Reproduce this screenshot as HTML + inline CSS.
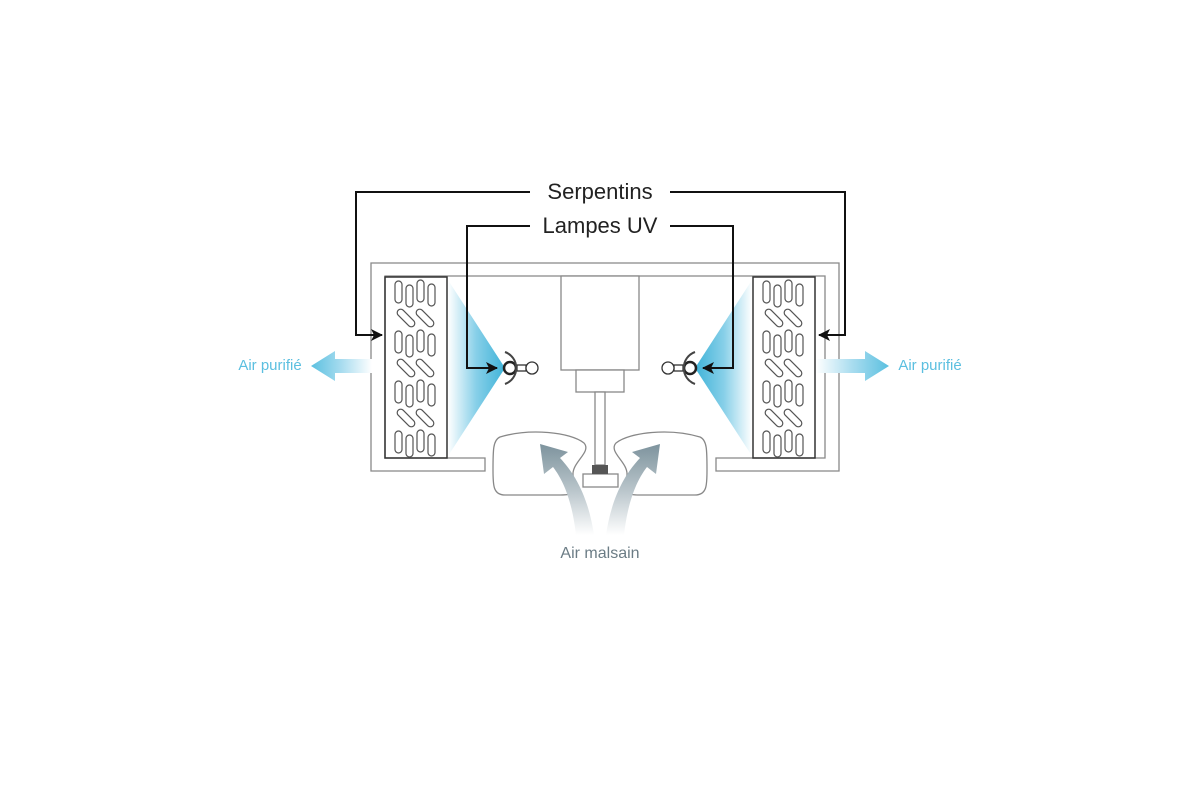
<!DOCTYPE html>
<html><head><style>
html,body{margin:0;padding:0;background:#fff;}
svg{display:block}
text{font-family:"Liberation Sans",sans-serif}
</style></head><body>
<svg width="1200" height="798" viewBox="0 0 1200 798" xmlns="http://www.w3.org/2000/svg">
<defs>
<linearGradient id="gl" x1="1" y1="0" x2="0" y2="0"><stop offset="0" stop-color="#3fb3d8"/><stop offset="0.5" stop-color="#86cfe8"/><stop offset="1" stop-color="#fff"/></linearGradient>
<linearGradient id="gr" x1="0" y1="0" x2="1" y2="0"><stop offset="0" stop-color="#3fb3d8"/><stop offset="0.5" stop-color="#86cfe8"/><stop offset="1" stop-color="#fff"/></linearGradient>
<linearGradient id="al" x1="1" y1="0" x2="0" y2="0"><stop offset="0" stop-color="#fff"/><stop offset="0.5" stop-color="#a8dcef"/><stop offset="1" stop-color="#5bc0e0"/></linearGradient>
<linearGradient id="ar" x1="0" y1="0" x2="1" y2="0"><stop offset="0" stop-color="#fff"/><stop offset="0.5" stop-color="#a8dcef"/><stop offset="1" stop-color="#5bc0e0"/></linearGradient>
<linearGradient id="gy" x1="0" y1="1" x2="0" y2="0"><stop offset="0" stop-color="#fff"/><stop offset="0.5" stop-color="#b8c4ca"/><stop offset="1" stop-color="#7d939d"/></linearGradient>
<marker id="ah" markerWidth="12" markerHeight="12" refX="11" refY="6" orient="auto" markerUnits="userSpaceOnUse"><path d="M0,0 L12,6 L0,12 L3,6 Z" fill="#111"/></marker>
<g id="coil" fill="none" stroke="#555" stroke-width="1.2">
<rect x="0" y="0" width="62" height="181" stroke="#333" stroke-width="1.5"/>
<g id="vr"><rect x="10" y="4" width="7" height="22" rx="3.5"/><rect x="21" y="8" width="7" height="22" rx="3.5"/><rect x="32" y="3" width="7" height="22" rx="3.5"/><rect x="43" y="7" width="7" height="22" rx="3.5"/></g>
<g id="dr"><rect x="10" y="37.5" width="22" height="7" rx="3.5" transform="rotate(45 21 41)"/><rect x="29" y="37.5" width="22" height="7" rx="3.5" transform="rotate(45 40 41)"/></g>
<use href="#vr" y="50"/><use href="#dr" y="50"/><use href="#vr" y="100"/><use href="#dr" y="100"/><use href="#vr" y="150"/>
</g>
<g id="lamp" fill="none" stroke="#333" stroke-width="1.3">
<circle r="6" fill="#fff" stroke="#222" stroke-width="2.5"/>
<rect x="7" y="-3" width="9" height="6" fill="#fff"/>
<circle cx="22" r="6" fill="#fff"/>
<path d="M-5,-16 A17,17 0 0 1 -5,16" stroke="#444" stroke-width="2"/>
</g>
</defs>
<path d="M371,263 H839 V471 H716 V458 H825 V276 H385 V458 H485 V471 H371 Z" fill="none" stroke="#888" stroke-width="1.3"/>
<path d="M505,368 L448,280 L448,456 Z" fill="url(#gl)"/>
<path d="M695,368 L752,280 L752,456 Z" fill="url(#gr)"/>
<use href="#coil" x="385" y="277"/>
<use href="#coil" x="753" y="277"/>
<use href="#lamp" transform="translate(510,368)"/>
<use href="#lamp" transform="translate(690,368) scale(-1,1)"/>
<g fill="#fff" stroke="#888" stroke-width="1.3">
<rect x="561" y="276" width="78" height="94"/>
<rect x="576" y="370" width="48" height="22"/>
<rect x="595" y="392" width="10" height="73"/>
<rect x="583" y="474" width="35" height="13"/>
</g>
<rect x="592" y="465" width="16" height="9" fill="#555"/>
<path d="M500,437 C530,428 570,432 584,443 C592,452 572,462 573,475 C575,488 585,495 560,495 L505,495 C493,495 493,485 493,470 C493,450 493,440 500,437 Z" fill="none" stroke="#888" stroke-width="1.3"/>
<path d="M700,437 C670,428 630,432 616,443 C608,452 628,462 627,475 C625,488 615,495 640,495 L695,495 C707,495 707,485 707,470 C707,450 707,440 700,437 Z" fill="none" stroke="#888" stroke-width="1.3"/>
<path d="M576,535 C572,500 563,480 553,467 L544,474 L540,444 L568,452 L560,458 C574,473 588,495 594,535 Z" fill="url(#gy)"/>
<path d="M624,535 C628,500 637,480 647,467 L656,474 L660,444 L632,452 L640,458 C626,473 612,495 606,535 Z" fill="url(#gy)"/>
<path d="M372,359 H335 V351 L311,366 L335,381 V373 H372 Z" fill="url(#al)"/>
<path d="M816,359 H865 V351 L889,366 L865,381 V373 H816 Z" fill="url(#ar)"/>
<g fill="none" stroke="#111" stroke-width="2">
<path d="M530,192 H356 V335 H382" marker-end="url(#ah)"/>
<path d="M670,192 H845 V335 H819" marker-end="url(#ah)"/>
<path d="M530,226 H467 V368 H497" marker-end="url(#ah)"/>
<path d="M670,226 H733 V368 H703" marker-end="url(#ah)"/>
</g>
<text x="600" y="199" font-size="22" text-anchor="middle" fill="#222">Serpentins</text>
<text x="600" y="233" font-size="22" text-anchor="middle" fill="#222">Lampes UV</text>
<text x="270" y="370" font-size="15" text-anchor="middle" fill="#5bbfe0">Air purifié</text>
<text x="930" y="370" font-size="15" text-anchor="middle" fill="#5bbfe0">Air purifié</text>
<text x="600" y="558" font-size="16" text-anchor="middle" fill="#6b7c85">Air malsain</text>
</svg>
</body></html>
